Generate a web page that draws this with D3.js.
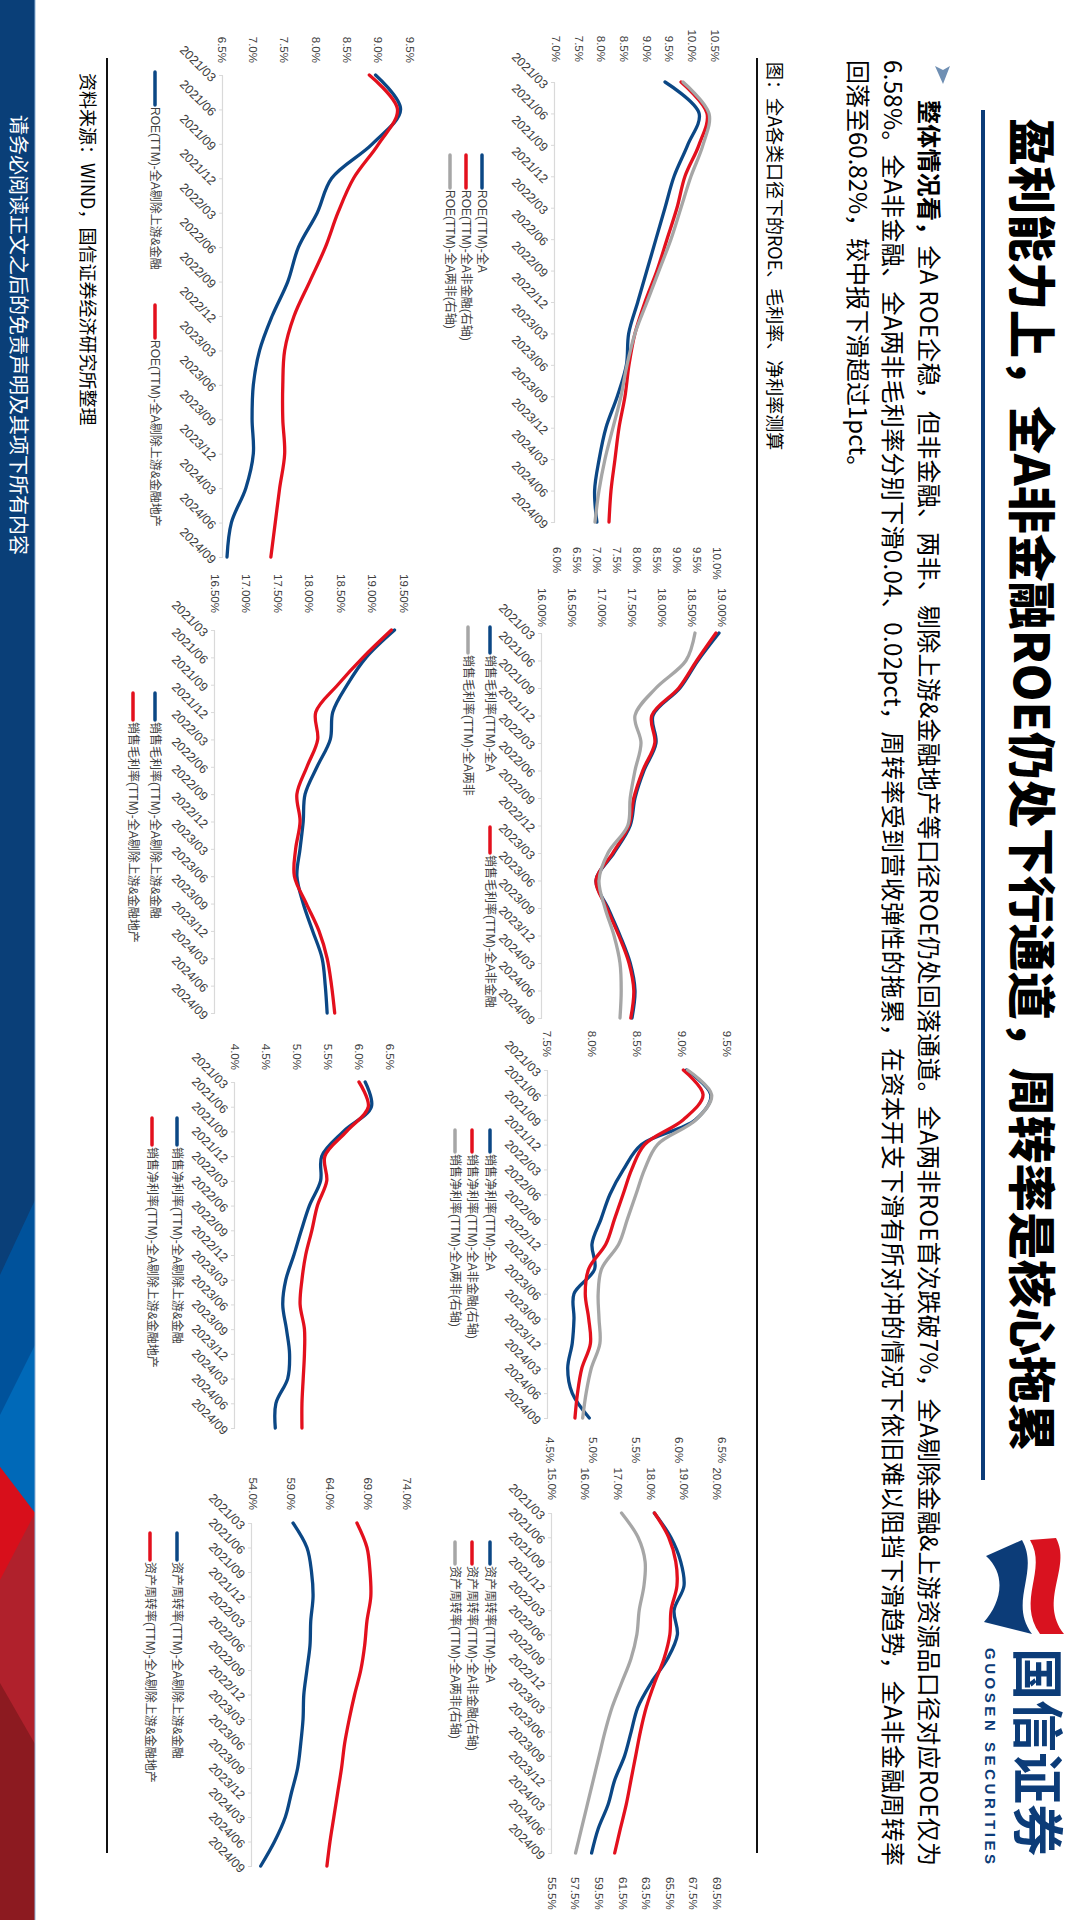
<!DOCTYPE html>
<html><head><meta charset="utf-8">
<script src="https://cdn.jsdelivr.net/npm/d3@7.9.0/dist/d3.min.js"></script>
<style>
html,body{margin:0;padding:0;background:#fff;width:1080px;height:1920px;overflow:hidden}
#slide{position:absolute;left:0;top:0;width:1920px;height:1080px;transform-origin:0 0;transform:translate(1080px,0) rotate(90deg)}
svg text{font-family:"Liberation Sans","Noto Sans CJK SC",sans-serif}
</style></head><body><div id="slide"></div>
<script>
// quarters on every x axis
const quarters = ["2021/03","2021/06","2021/09","2021/12","2022/03","2022/06","2022/09","2022/12","2023/03","2023/06","2023/09","2023/12","2024/03","2024/06","2024/09"];

// ROE (TTM)
const roeA      = [9.4, 10.15, 9.9, 9.6, 9.4, 9.2, 9.0, 8.8, 8.6, 8.55, 8.35, 8.1, 7.95, 7.85, 7.9];
const roeNonFin = [9.1, 9.75, 9.55, 9.2, 9.0, 8.75, 8.5, 8.2, 7.95, 7.8, 7.7, 7.55, 7.45, 7.35, 7.3];
const roeTwoNon = [9.15, 9.8, 9.65, 9.35, 9.1, 8.85, 8.55, 8.25, 7.95, 7.75, 7.6, 7.4, 7.2, 7.05, 6.95];
const roeExUp   = [8.95, 9.35, 8.9, 8.25, 8.02, 7.72, 7.55, 7.3, 7.1, 7.0, 6.98, 7.0, 6.88, 6.65, 6.58];
const roeExUpRE = [8.85, 9.3, 9.0, 8.6, 8.35, 8.15, 7.9, 7.65, 7.5, 7.47, 7.47, 7.5, 7.42, 7.35, 7.28];
// 销售毛利率 (TTM)
const gmA      = [18.95, 18.6, 18.3, 17.85, 17.9, 17.7, 17.55, 17.47, 17.2, 16.9, 17.1, 17.3, 17.47, 17.55, 17.5];
const gmNonFin = [18.9, 18.58, 18.28, 17.83, 17.88, 17.68, 17.53, 17.45, 17.18, 16.9, 17.08, 17.28, 17.45, 17.53, 17.48];
const gmTwoNon = [18.55, 18.4, 17.9, 17.55, 17.65, 17.55, 17.47, 17.43, 17.1, 16.95, 17.05, 17.2, 17.3, 17.32, 17.3];
const gmExUp   = [19.35, 18.9, 18.6, 18.37, 18.33, 18.12, 17.93, 17.9, 17.85, 17.8, 17.9, 18.05, 18.2, 18.25, 18.28];
const gmExUpRE = [19.3, 18.85, 18.45, 18.1, 18.13, 17.96, 17.8, 17.85, 17.78, 17.76, 17.95, 18.15, 18.28, 18.35, 18.4];
// 销售净利率 (TTM)
const nmA      = [9.05, 9.32, 9.15, 8.55, 8.35, 8.2, 8.1, 8.0, 8.03, 7.8, 7.8, 7.78, 7.73, 7.78, 7.97];
const nmNonFin = [6.05, 6.28, 6.05, 5.6, 5.45, 5.35, 5.25, 5.15, 4.95, 4.91, 4.95, 4.97, 4.87, 4.82, 4.79];
const nmTwoNon = [6.1, 6.38, 6.2, 5.75, 5.6, 5.5, 5.4, 5.3, 5.1, 5.06, 5.07, 5.08, 4.98, 4.92, 4.88];
const nmExUp   = [6.1, 6.2, 5.75, 5.4, 5.38, 5.2, 5.07, 4.95, 4.82, 4.77, 4.83, 4.88, 4.85, 4.66, 4.65];
const nmExUpRE = [6.0, 6.15, 5.8, 5.45, 5.48, 5.33, 5.24, 5.14, 5.08, 5.05, 5.12, 5.12, 5.1, 5.08, 5.08];
// 资产周转率 (TTM)
const atA      = [18.1, 18.6, 18.9, 19.0, 18.7, 18.8, 18.5, 18.0, 17.6, 17.4, 17.2, 16.9, 16.7, 16.4, 16.2];
const atNonFin = [64.2, 65.4, 66.0, 66.1, 65.6, 65.5, 65.0, 64.2, 63.5, 63.0, 62.6, 62.2, 61.8, 61.3, 60.82];
const atTwoNon = [61.4, 62.8, 63.4, 63.3, 62.9, 62.7, 62.2, 61.4, 60.6, 60.0, 59.5, 59.0, 58.5, 58.0, 57.5];
const atExUp   = [59.2, 61.0, 61.6, 61.8, 61.5, 61.4, 61.0, 60.6, 60.5, 60.2, 59.8, 59.0, 58.2, 56.8, 55.0];
const atExUpRE = [67.5, 68.8, 69.2, 69.3, 68.8, 68.5, 68.0, 67.2, 66.5, 65.9, 65.5, 65.0, 64.5, 64.0, 63.6];

// axis tick labels
const roeTicksL = [7.0, 7.5, 8.0, 8.5, 9.0, 9.5, 10.0, 10.5];
const roeTicksR = [6.0, 6.5, 7.0, 7.5, 8.0, 8.5, 9.0, 9.5, 10.0];
const roeTicksLow = [6.5, 7.0, 7.5, 8.0, 8.5, 9.0, 9.5];
const gmTicks = [16.0, 16.5, 17.0, 17.5, 18.0, 18.5, 19.0];
const gmTicksLow = [16.5, 17.0, 17.5, 18.0, 18.5, 19.0, 19.5];
const nmTicksL = [7.5, 8.0, 8.5, 9.0, 9.5];
const nmTicksR = [4.5, 5.0, 5.5, 6.0, 6.5];
const nmTicksLow = [4.0, 4.5, 5.0, 5.5, 6.0, 6.5];
const atTicksL = [15.0, 16.0, 17.0, 18.0, 19.0, 20.0];
const atTicksR = [55.5, 57.5, 59.5, 61.5, 63.5, 65.5, 67.5, 69.5];
const atTicksLow = [54.0, 59.0, 64.0, 69.0, 74.0];

// legend names
const roeNames = ["ROE(TTM)-全A", "ROE(TTM)-全A非金融(右轴)", "ROE(TTM)-全A两非(右轴)"];
const roeNamesLow = ["ROE(TTM)-全A剔除上游&金融", "ROE(TTM)-全A剔除上游&金融地产"];
const gmNames = ["销售毛利率(TTM)-全A", "销售毛利率(TTM)-全A非金融", "销售毛利率(TTM)-全A两非"];
const gmNamesLow = ["销售毛利率(TTM)-全A剔除上游&金融", "销售毛利率(TTM)-全A剔除上游&金融地产"];
const nmNames = ["销售净利率(TTM)-全A", "销售净利率(TTM)-全A非金融(右轴)", "销售净利率(TTM)-全A两非(右轴)"];
const nmNamesLow = ["销售净利率(TTM)-全A剔除上游&金融", "销售净利率(TTM)-全A剔除上游&金融地产"];
const atNames = ["资产周转率(TTM)-全A", "资产周转率(TTM)-全A非金融(右轴)", "资产周转率(TTM)-全A两非(右轴)"];
const atNamesLow = ["资产周转率(TTM)-全A剔除上游&金融", "资产周转率(TTM)-全A剔除上游&金融地产"];

const BLUE = "#0b4785", RED = "#e3101d", GRAY = "#a6a6a6";

const svg = d3.select("#slide").append("svg").attr("width", 1920).attr("height", 1080);

// footer band + decoration
svg.append("rect").attr("x", 0).attr("y", 1045).attr("width", 1920).attr("height", 35).attr("fill", "#0a3f78");
const deco = [
  ["#00529b", [[1200,1045],[1920,1045],[1920,1080],[1275,1080]]],
  ["#0069b8", [[1345,1045],[1920,1045],[1920,1080],[1415,1080]]],
  ["#b0212c", [[1513,1045],[1920,1045],[1920,1080],[1467,1080]]],
  ["#d80f1b", [[1513,1045],[1467,1080],[1580,1080]]],
  ["#8c1a20", [[1744,1045],[1920,1045],[1920,1080],[1683,1080]]]
];
deco.forEach(([c, pts]) => svg.append("polygon").attr("points", pts.join(" ")).attr("fill", c));
svg.append("line").attr("x1", 0).attr("x2", 1920).attr("y1", 1045).attr("y2", 1045).attr("stroke", "#8fb2d6").attr("stroke-width", 1);
svg.append("text").attr("x", 115).attr("y", 1069).attr("fill", "#fff").attr("font-size", 20)
  .style("font-family", "Noto Sans CJK SC").text("请务必阅读正文之后的免责声明及其项下所有内容");

// title
svg.append("text").attr("x", 118).attr("y", 66).attr("font-size", 48).attr("font-weight", 900)
  .style("font-family", "Noto Sans CJK SC").text("盈利能力上，全A非金融ROE仍处下行通道，周转率是核心拖累");
svg.append("line").attr("x1", 110).attr("x2", 1480).attr("y1", 97).attr("y2", 97).attr("stroke", "#0c3c78").attr("stroke-width", 4);

// logo
svg.append("path").attr("d", "M1538,24 C1568,8 1600,42 1634,16 L1634,40 C1600,64 1570,32 1540,50 Z").attr("fill", "#d9121f");
svg.append("path").attr("d", "M1540,58 C1572,40 1602,72 1634,48 L1622,96 C1604,80 1576,72 1556,94 Z").attr("fill", "#0c3c78");
svg.append("text").attr("x", 1648).attr("y", 62).attr("font-size", 52).attr("font-weight", 700).attr("fill", "#0c3c78")
  .style("font-family", "Noto Sans CJK SC").text("国信证券");
svg.append("text").attr("x", 1648).attr("y", 95).attr("font-size", 15).attr("font-weight", 700).attr("fill", "#0c3c78")
  .attr("textLength", 216).attr("lengthAdjust", "spacing").text("GUOSEN SECURITIES");

// paragraph
svg.append("polygon").attr("points", "66,130 84,137 66,145 70,137").attr("fill", "#6f8fb3");
const p1 = svg.append("text").attr("x", 100).attr("y", 160).attr("font-size", 24)
  .attr("textLength", 1766).attr("lengthAdjust", "spacing").style("font-family", "Noto Sans CJK SC");
p1.append("tspan").attr("font-weight", 700).text("整体情况看，");
p1.append("tspan").text("全A ROE企稳，但非金融、两非、剔除上游&金融地产等口径ROE仍处回落通道。全A两非ROE首次跌破7%，全A剔除金融&上游资源品口径对应ROE仅为");
svg.append("text").attr("x", 60).attr("y", 196).attr("font-size", 24)
  .attr("textLength", 1806).attr("lengthAdjust", "spacing").style("font-family", "Noto Sans CJK SC")
  .text("6.58%。全A非金融、全A两非毛利率分别下滑0.04、0.02pct，周转率受到营收弹性的拖累，在资本开支下滑有所对冲的情况下依旧难以阻挡下滑趋势，全A非金融周转率");
svg.append("text").attr("x", 60).attr("y", 231).attr("font-size", 24).style("font-family", "Noto Sans CJK SC")
  .text("回落至60.82%，较中报下滑超过1pct。");

// caption, rules, source
svg.append("text").attr("x", 62).attr("y", 312).attr("font-size", 18).style("font-family", "Noto Sans CJK SC")
  .text("图：全A各类口径下的ROE、毛利率、净利率测算");
[323, 973].forEach(y => svg.append("line").attr("x1", 58).attr("x2", 1853).attr("y1", y).attr("y2", y).attr("stroke", "#111").attr("stroke-width", 2));
svg.append("text").attr("x", 73).attr("y", 999).attr("font-size", 18).style("font-family", "Noto Sans CJK SC")
  .text("资料来源：WIND，国信证券经济研究所整理");

// chart panels (layout only)
const panels = [
  { x0: 82, x1: 522, axisY: 525,
    L: { ticks: roeTicksL, fmt: d => d.toFixed(1) + "%", yb: 524, yt: 365, lx: 62 },
    R: { ticks: roeTicksR, fmt: d => d.toFixed(1) + "%", yb: 523, yt: 363, lx: 547 },
    series: [[roeA, BLUE, "L"], [roeNonFin, RED, "R"], [roeTwoNon, GRAY, "R"]],
    names: roeNames, leg: [[155, 598], [155, 614], [155, 630]], len: 33 },
  { x0: 633, x1: 1018, axisY: 538,
    L: { ticks: gmTicks, fmt: d => d.toFixed(2) + "%", yb: 538, yt: 358, lx: 627 },
    series: [[gmA, BLUE, "L"], [gmNonFin, RED, "L"], [gmTwoNon, GRAY, "L"]],
    names: gmNames, leg: [[627, 590], [827, 590], [627, 612]], len: 26 },
  { x0: 1070, x1: 1418, axisY: 532,
    L: { ticks: nmTicksL, fmt: d => d.toFixed(1) + "%", yb: 533, yt: 353, lx: 1057 },
    R: { ticks: nmTicksR, fmt: d => d.toFixed(1) + "%", yb: 530, yt: 358, lx: 1437 },
    series: [[nmA, BLUE, "L"], [nmNonFin, RED, "R"], [nmTwoNon, GRAY, "R"]],
    names: nmNames, leg: [[1130, 590], [1130, 608], [1130, 625]], len: 22 },
  { x0: 1513, x1: 1853, axisY: 528,
    L: { ticks: atTicksL, fmt: d => d.toFixed(1) + "%", yb: 528, yt: 363, lx: 1500 },
    R: { ticks: atTicksR, fmt: d => d.toFixed(1) + "%", yb: 528, yt: 363, lx: 1877 },
    series: [[atA, BLUE, "L"], [atNonFin, RED, "R"], [atTwoNon, GRAY, "R"]],
    names: atNames, leg: [[1542, 590], [1542, 608], [1542, 625]], len: 22 },
  { x0: 75, x1: 557, axisY: 857,
    L: { ticks: roeTicksLow, fmt: d => d.toFixed(1) + "%", yb: 858, yt: 670, lx: 63 },
    series: [[roeExUp, BLUE, "L"], [roeExUpRE, RED, "L"]],
    names: roeNamesLow, leg: [[72, 925], [305, 925]], len: 33 },
  { x0: 630, x1: 1013, axisY: 865,
    L: { ticks: gmTicksLow, fmt: d => d.toFixed(2) + "%", yb: 865, yt: 676, lx: 613 },
    series: [[gmExUp, BLUE, "L"], [gmExUpRE, RED, "L"]],
    names: gmNamesLow, leg: [[693, 925], [693, 947]], len: 27 },
  { x0: 1082, x1: 1428, axisY: 845,
    L: { ticks: nmTicksLow, fmt: d => d.toFixed(1) + "%", yb: 845, yt: 690, lx: 1070 },
    series: [[nmExUp, BLUE, "L"], [nmExUpRE, RED, "L"]],
    names: nmNamesLow, leg: [[1118, 903], [1118, 928]], len: 27 },
  { x0: 1523, x1: 1866, axisY: 828,
    L: { ticks: atTicksLow, fmt: d => d.toFixed(1) + "%", yb: 827, yt: 673, lx: 1510 },
    series: [[atExUp, BLUE, "L"], [atExUpRE, RED, "L"]],
    names: atNamesLow, leg: [[1533, 903], [1533, 930]], len: 27 }
];

function drawPanel(p) {
  const g = svg.append("g");
  const x = d3.scalePoint().domain(quarters).range([p.x0, p.x1]);
  const yL = d3.scaleLinear().domain([p.L.ticks[0], p.L.ticks[p.L.ticks.length - 1]]).range([p.L.yb, p.L.yt]);
  const yR = p.R ? d3.scaleLinear().domain([p.R.ticks[0], p.R.ticks[p.R.ticks.length - 1]]).range([p.R.yb, p.R.yt]) : null;

  // category axis
  const gx = g.append("g").attr("transform", `translate(0,${p.axisY})`)
    .call(d3.axisBottom(x).tickSize(4).tickSizeOuter(0));
  gx.select(".domain").attr("stroke", "#d9d9d9").attr("stroke-width", 1.2);
  gx.selectAll(".tick line").attr("stroke", "#d9d9d9");
  gx.selectAll(".tick text").attr("x", 0).attr("y", 0).attr("dy", "0.35em")
    .attr("transform", "translate(4,9) rotate(-45)").attr("text-anchor", "end")
    .attr("fill", "#404040").attr("font-size", 12.5);

  // value axes (labels only)
  const gl = g.append("g").attr("transform", `translate(${p.L.lx},0)`)
    .call(d3.axisLeft(yL).tickValues(p.L.ticks).tickFormat(p.L.fmt).tickSize(0).tickPadding(0));
  gl.select(".domain").remove();
  gl.selectAll("text").attr("fill", "#404040").attr("font-size", 11.5);
  if (yR) {
    const gr = g.append("g").attr("transform", `translate(${p.R.lx},0)`)
      .call(d3.axisRight(yR).tickValues(p.R.ticks).tickFormat(p.R.fmt).tickSize(0).tickPadding(0));
    gr.select(".domain").remove();
    gr.selectAll("text").attr("fill", "#404040").attr("font-size", 11.5);
  }

  // lines
  p.series.forEach(([vals, color, ax]) => {
    const y = ax === "R" ? yR : yL;
    const line = d3.line().x((d, i) => x(quarters[i])).y(d => y(d)).curve(d3.curveCatmullRom.alpha(0.5));
    g.append("path").attr("d", line(vals)).attr("fill", "none").attr("stroke", color)
      .attr("stroke-width", 3.3).attr("stroke-linecap", "round").attr("stroke-linejoin", "round");
  });

  // legend
  p.names.forEach((name, i) => {
    const [lx, ly] = p.leg[i];
    g.append("line").attr("x1", lx).attr("x2", lx + p.len).attr("y1", ly).attr("y2", ly)
      .attr("stroke", p.series[i][1]).attr("stroke-width", 3.5).attr("stroke-linecap", "round");
    g.append("text").attr("x", lx + p.len + 2).attr("y", ly).attr("dy", "0.35em")
      .attr("font-size", 12).attr("fill", "#404040").text(name);
  });
}
panels.forEach(drawPanel);
</script>
</body></html>
